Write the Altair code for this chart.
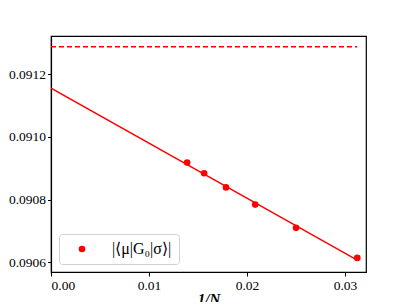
import altair as alt
import pandas as pd

inv_n = [1/72, 1/64, 1/56, 1/48, 1/40, 1/32]
g_vals = [0.090918, 0.090884, 0.090839, 0.090784, 0.090710, 0.090614]
series_label = "|⟨μ|G₀|σ⟩|"
ref_level = 0.091288
fit_extent = [0.0, 1/32]

df = pd.DataFrame({"x": inv_n, "y": g_vals, "series": [series_label]*len(inv_n)})
ref_df = pd.DataFrame({"x0": [fit_extent[0]], "x1": [fit_extent[1]], "y": [ref_level]})

FONT = "Liberation Serif"
xs = alt.Scale(domain=[0, 0.03214], nice=False, zero=False)
ys = alt.Scale(domain=[0.090569, 0.091322], nice=False, zero=False)

xax = alt.Axis(values=[0, 0.01, 0.02, 0.03], format=".2f", title="1/N", grid=False,
               tickSize=4, labelFontSize=13.5, titleFontSize=15, titleFontStyle="italic",
               labelPadding=2, titlePadding=0)
yax = alt.Axis(values=[0.0906, 0.0908, 0.0910, 0.0912], format=".4f", title=None, grid=False,
               tickSize=3.5, labelFontSize=13.5, labelPadding=2)

base = alt.Chart(df)

pts = base.mark_circle(size=44, opacity=1).encode(
    x=alt.X("x:Q", scale=xs, axis=xax),
    y=alt.Y("y:Q", scale=ys, axis=yax),
    color=alt.Color("series:N", scale=alt.Scale(range=["red"]),
                    legend=alt.Legend(title=None, orient="bottom-left", symbolType="circle",
                                      symbolSize=44, labelFontSize=16, labelFont=FONT,
                                      strokeColor="#d0d0d0", fillColor="white", cornerRadius=3,
                                      padding=7, offset=8, labelOffset=22, symbolOffset=8)),
)

fit = base.transform_regression("x", "y", extent=fit_extent).mark_line(
    color="red", strokeWidth=1.5, clip=True).encode(
    x=alt.X("x:Q", scale=xs), y=alt.Y("y:Q", scale=ys))

ref = alt.Chart(ref_df).mark_rule(color="red", strokeWidth=1.5, strokeDash=[5, 3]).encode(
    x=alt.X("x0:Q", scale=xs), x2="x1:Q", y=alt.Y("y:Q", scale=ys))

chart = alt.layer(ref, fit, pts).properties(
    width=315, height=236,
    background="white",
    autosize=alt.AutoSizeParams(type="none"),
    padding={"left": 43, "top": 28, "right": 33, "bottom": 30},
).configure_view(stroke="black", strokeWidth=1.2).configure_axis(
    labelFont=FONT, titleFont=FONT, domainColor="black", tickColor="black",
    labelColor="black", titleColor="black", domain=True, domainWidth=1.2
)

chart.save("out.html", embed_options={"renderer": "svg", "actions": False})
